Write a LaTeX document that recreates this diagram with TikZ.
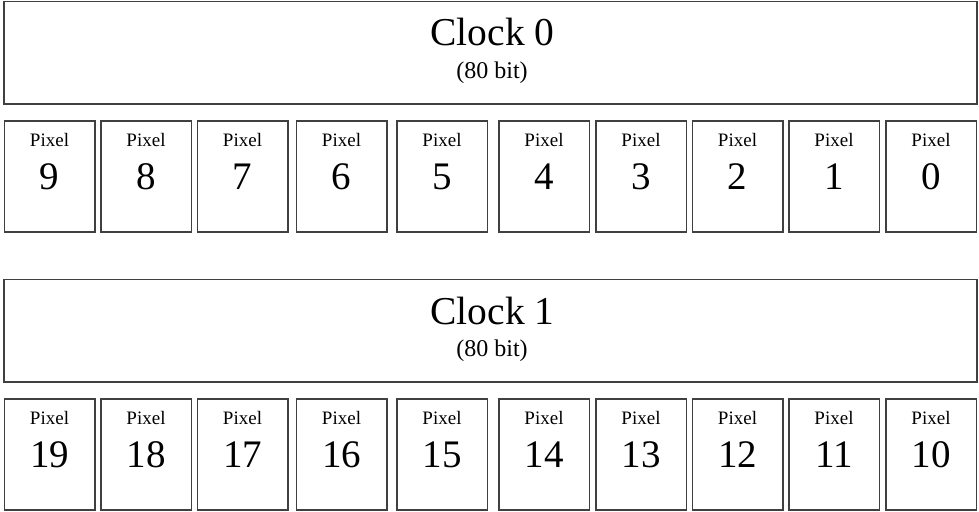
\documentclass[tikz,border=0pt]{standalone}
\usepackage{fontspec}
\setmainfont{Liberation Serif}

\begin{document}
\begin{tikzpicture}[
  x=1pt, y=-1pt,
  clockbox/.style={draw=black!75, line width=1.5pt, minimum width=973pt, minimum height=102.5pt, inner sep=0pt},
  pixbox/.style={draw=black!75, line width=1.5pt, minimum width=90.5pt, minimum height=111pt, inner sep=0pt},
  clocktxt/.style={anchor=base, inner sep=0pt, font=\fontsize{39.5}{44}\selectfont},
  bittxt/.style={anchor=base, inner sep=0pt, font=\fontsize{24}{27}\selectfont},
  pixtxt/.style={anchor=base, inner sep=0pt, font=\fontsize{19}{21}\selectfont},
  numtxt/.style={anchor=base, inner sep=0pt, font=\fontsize{39}{44}\selectfont}
]
\useasboundingbox (0,0) rectangle (979,511);

% === Row 0: clock 0, pixels 9 .. 0 ===
\begin{scope}[shift={(0,0)}]
  \node[clockbox] (C0) at (490.5, 52.75) {};
  \node[clocktxt] at ([xshift=2pt, yshift=6.75pt]C0.center) {Clock 0};
  \node[bittxt] at ([xshift=1.5pt, yshift=-25.25pt]C0.center) {(80 bit)};

  % Pixel boxes
  \node[pixbox] (P9) at (49.5, 176.5) {};
  \node[pixbox] (P8) at (146, 176.5) {};
  \node[pixbox] (P7) at (242.5, 176.5) {};
  \node[pixbox] (P6) at (341.5, 176.5) {};
  \node[pixbox] (P5) at (442, 176.5) {};
  \node[pixbox] (P4) at (544, 176.5) {};
  \node[pixbox] (P3) at (641, 176.5) {};
  \node[pixbox] (P2) at (737.5, 176.5) {};
  \node[pixbox] (P1) at (834, 176.5) {};
  \node[pixbox] (P0) at (931, 176.5) {};

  % Labels
  \foreach \p in {9,8,7,6,5,4,3,2,1,0} {
    \node[pixtxt] at ([yshift=-26pt]P\p.north) {Pixel};
    \node[numtxt] at ([yshift=-69pt]P\p.north) {\p};
  }
\end{scope}

% === Row 1: clock 1, pixels 19 .. 10 ===
\begin{scope}[shift={(0,278)}]
  \node[clockbox] (C1) at (490.5, 52.75) {};
  \node[clocktxt] at ([xshift=2pt, yshift=6.75pt]C1.center) {Clock 1};
  \node[bittxt] at ([xshift=1.5pt, yshift=-25.25pt]C1.center) {(80 bit)};

  % Pixel boxes
  \node[pixbox] (P19) at (49.5, 176.5) {};
  \node[pixbox] (P18) at (146, 176.5) {};
  \node[pixbox] (P17) at (242.5, 176.5) {};
  \node[pixbox] (P16) at (341.5, 176.5) {};
  \node[pixbox] (P15) at (442, 176.5) {};
  \node[pixbox] (P14) at (544, 176.5) {};
  \node[pixbox] (P13) at (641, 176.5) {};
  \node[pixbox] (P12) at (737.5, 176.5) {};
  \node[pixbox] (P11) at (834, 176.5) {};
  \node[pixbox] (P10) at (931, 176.5) {};

  % Labels
  \foreach \p in {19,18,17,16,15,14,13,12,11,10} {
    \node[pixtxt] at ([yshift=-26pt]P\p.north) {Pixel};
    \node[numtxt] at ([yshift=-69pt]P\p.north) {\p};
  }
\end{scope}

\end{tikzpicture}
\end{document}
